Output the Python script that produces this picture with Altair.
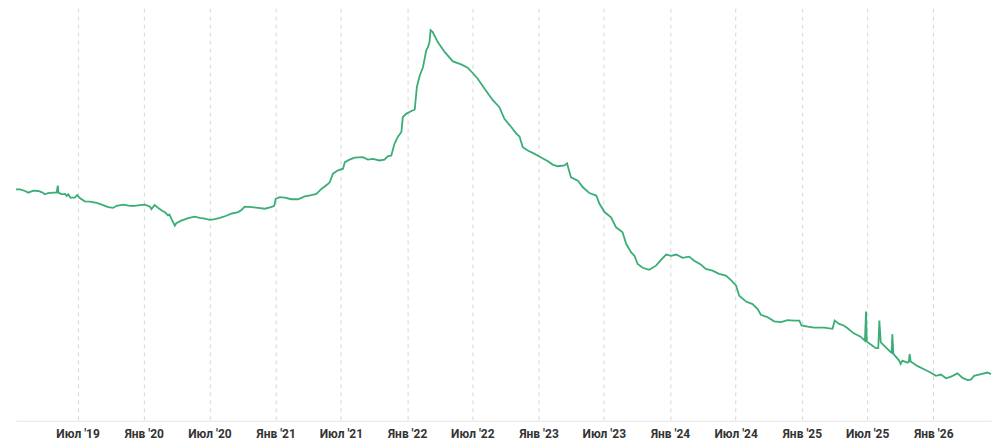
import altair as alt
import pandas as pd

dates = [
    "2019-01-11", "2019-01-22", "2019-02-05", "2019-02-14", "2019-02-28", "2019-03-14", "2019-03-26",
    "2019-04-01", "2019-04-10", "2019-04-24", "2019-05-04", "2019-05-07", "2019-05-09", "2019-05-18",
    "2019-05-27", "2019-06-01", "2019-06-05", "2019-06-11", "2019-06-23", "2019-06-30", "2019-07-07",
    "2019-07-21", "2019-08-04", "2019-08-23", "2019-09-06", "2019-09-24", "2019-10-08", "2019-10-17",
    "2019-11-05", "2019-11-23", "2019-12-07", "2019-12-21", "2020-01-04", "2020-01-18", "2020-01-22",
    "2020-01-31", "2020-02-10", "2020-02-23", "2020-02-28", "2020-03-08", "2020-03-12", "2020-03-19",
    "2020-03-27", "2020-03-31", "2020-04-14", "2020-05-03", "2020-05-21", "2020-06-04", "2020-06-18",
    "2020-07-02", "2020-07-16", "2020-07-30", "2020-08-17", "2020-08-31", "2020-09-19", "2020-09-28",
    "2020-10-07", "2020-10-26", "2020-11-13", "2020-12-02", "2020-12-19", "2020-12-28", "2021-01-01",
    "2021-01-12", "2021-01-26", "2021-02-14", "2021-03-04", "2021-03-23", "2021-04-10", "2021-04-24",
    "2021-05-08", "2021-05-26", "2021-05-31", "2021-06-09", "2021-06-23", "2021-07-07", "2021-07-12",
    "2021-07-25", "2021-08-08", "2021-08-31", "2021-09-14", "2021-09-28", "2021-10-16", "2021-10-30",
    "2021-11-08", "2021-11-18", "2021-11-27", "2021-12-06", "2021-12-16", "2021-12-20", "2021-12-29",
    "2022-01-13", "2022-01-22", "2022-01-28", "2022-02-05", "2022-02-14", "2022-02-23", "2022-02-28",
    "2022-03-04", "2022-03-07", "2022-03-13", "2022-03-27", "2022-04-15", "2022-05-08", "2022-05-31",
    "2022-06-18", "2022-07-02", "2022-07-16", "2022-08-04", "2022-08-27", "2022-09-14", "2022-09-28",
    "2022-10-17", "2022-10-31", "2022-11-09", "2022-11-18", "2022-12-02", "2022-12-21", "2023-01-08",
    "2023-01-27", "2023-02-09", "2023-02-23", "2023-03-14", "2023-03-21", "2023-03-25", "2023-04-01",
    "2023-04-20", "2023-05-04", "2023-05-22", "2023-06-10", "2023-06-19", "2023-07-03", "2023-07-21",
    "2023-08-04", "2023-08-22", "2023-09-01", "2023-09-15", "2023-09-24", "2023-10-03", "2023-10-17",
    "2023-11-04", "2023-11-23", "2023-12-07", "2023-12-21", "2024-01-04", "2024-01-18", "2024-02-05",
    "2024-02-23", "2024-03-08", "2024-03-26", "2024-04-09", "2024-04-28", "2024-05-16", "2024-06-04",
    "2024-06-18", "2024-07-02", "2024-07-11", "2024-07-30", "2024-08-17", "2024-08-31", "2024-09-09",
    "2024-09-28", "2024-10-16", "2024-11-04", "2024-11-22", "2024-12-11", "2024-12-25", "2024-12-31",
    "2025-01-17", "2025-02-04", "2025-03-04", "2025-03-27", "2025-04-02", "2025-04-14", "2025-04-27",
    "2025-05-07", "2025-05-25", "2025-06-13", "2025-06-25", "2025-06-28", "2025-06-30", "2025-07-16",
    "2025-07-25", "2025-08-01", "2025-08-04", "2025-08-08", "2025-08-22", "2025-09-05", "2025-09-07",
    "2025-09-09", "2025-09-12", "2025-09-28", "2025-10-02", "2025-10-07", "2025-10-21", "2025-10-25",
    "2025-10-27", "2025-10-30", "2025-11-17", "2025-12-06", "2025-12-24", "2026-01-08", "2026-01-22",
    "2026-02-05", "2026-02-19", "2026-03-09", "2026-03-23", "2026-04-06", "2026-04-15", "2026-04-24",
    "2026-05-13", "2026-05-31", "2026-06-10",
]

values = [
    56.1, 56.1, 55.7, 55.3, 55.8, 55.7, 55.3,
    54.9, 55.2, 55.3, 55.3, 57.0, 55.3, 54.9,
    55.0, 54.5, 54.9, 54.1, 54.1, 54.7, 54.0,
    53.2, 53.1, 52.8, 52.4, 51.8, 51.6, 52.1,
    52.4, 52.1, 52.1, 52.3, 52.4, 51.9, 51.3,
    52.3, 51.6, 50.8, 50.6, 49.8, 50.0, 48.7,
    47.3, 47.9, 48.5, 49.1, 49.5, 49.2, 49.0,
    48.7, 48.9, 49.2, 49.7, 50.2, 50.6, 51.1,
    51.9, 51.8, 51.6, 51.4, 51.8, 52.1, 53.8,
    54.2, 54.1, 53.7, 53.7, 54.4, 54.7, 55.0,
    56.2, 57.4, 57.8, 59.9, 60.7, 61.1, 62.7,
    63.3, 63.8, 63.9, 63.3, 63.5, 63.1, 63.3,
    64.1, 64.3, 67.2, 68.8, 70.0, 73.6, 74.4,
    75.1, 75.4, 80.9, 83.7, 85.7, 89.8, 90.6,
    91.8, 94.7, 94.2, 91.8, 89.4, 87.1, 86.4,
    85.6, 84.3, 82.9, 80.5, 77.7, 76.0, 73.2,
    71.2, 69.6, 68.9, 66.3, 65.5, 64.7, 63.8,
    62.9, 62.1, 61.7, 61.9, 62.4, 61.1, 59.0,
    58.2, 56.6, 55.2, 54.6, 52.6, 50.6, 49.3,
    46.9, 45.7, 42.9, 40.8, 40.0, 38.0, 37.1,
    36.6, 37.6, 39.0, 40.3, 40.0, 40.3, 39.5,
    39.8, 38.8, 37.9, 36.8, 36.4, 35.6, 35.2,
    34.1, 32.8, 30.3, 28.9, 28.3, 27.1, 25.7,
    25.1, 24.1, 23.9, 24.4, 24.3, 24.3, 23.1,
    22.8, 22.6, 22.6, 22.3, 24.3, 23.5, 23.1,
    22.5, 21.2, 20.4, 19.4, 26.5, 19.2, 18.2,
    17.6, 17.6, 24.3, 19.0, 17.8, 16.6, 16.5,
    21.0, 16.2, 14.6, 13.8, 14.6, 14.1, 14.3,
    16.2, 14.4, 13.3, 12.5, 11.7, 10.9, 11.2,
    10.3, 10.7, 11.5, 10.4, 9.9, 10.0, 10.9,
    11.3, 11.7, 11.3,
]

tick_dates = [
    "2019-07-01", "2020-01-01", "2020-07-01", "2021-01-01", "2021-07-01", "2022-01-01",
    "2022-07-01", "2023-01-01", "2023-07-01", "2024-01-01", "2024-07-01", "2025-01-01",
    "2025-07-01", "2026-01-01",
]

df = pd.DataFrame({"date": dates, "value": values})
tick_ms = [int(pd.Timestamp(d, tz="UTC").value // 10**6) for d in tick_dates]

chart = (
    alt.Chart(df)
    .mark_line(color="#3aae76", strokeWidth=1.8, interpolate="linear")
    .encode(
        x=alt.X(
            "date:T",
            scale=alt.Scale(type="utc", domain=[dates[0], dates[-1]], nice=False),
            axis=alt.Axis(
                title=None,
                values=tick_ms,
                labelExpr="(utcFormat(datum.value, '%m') == '01' ? 'Янв' : 'Июл') + \" '\" + utcFormat(datum.value, '%y')",
                grid=True,
                gridDash=[4, 4],
                gridColor="#d6d6d6",
                gridWidth=1,
                domainColor="#e6e6e6",
                ticks=False,
                labelPadding=8,
                labelFont="Roboto",
                labelFontSize=12,
                labelFontWeight="bold",
                labelColor="#333333",
                labelAngle=0,
            ),
        ),
        y=alt.Y(
            "value:Q",
            scale=alt.Scale(domain=[0, 100], nice=False, zero=False),
            axis=None,
        ),
    )
    .properties(width=976, height=413, padding={"left": 4, "top": 0, "right": 0, "bottom": 5})
    .configure_view(strokeWidth=0)
)

chart.save("out.html", embed_options={"renderer": "svg", "actions": False})
